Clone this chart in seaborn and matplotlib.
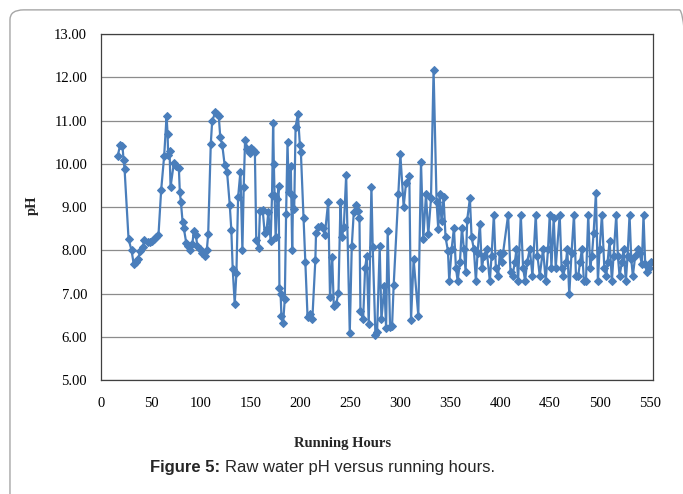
import matplotlib
matplotlib.use("Agg")
import matplotlib.pyplot as plt
import seaborn as sns
import pandas as pd
from matplotlib.patches import FancyBboxPatch

# running hours and raw water pH
hours = [
    16.8, 19.2, 21.5, 22.6, 23.6, 27.6, 30.6, 32.7, 35.0, 37.0,
    39.4, 42.0, 43.4, 46.8, 49.5, 51.5, 53.5, 55.5, 57.6, 60.3,
    63.3, 65.7, 66.7, 67.3, 68.7, 69.7, 73.0, 75.0, 78.0, 79.0,
    80.0, 81.8, 83.0, 85.5, 87.5, 89.6, 91.5, 93.0, 95.0, 96.6,
    99.3, 101.7, 104.0, 106.0, 107.4, 110.0, 111.4, 114.5, 116.0, 118.0,
    119.5, 121.5, 123.9, 126.3, 129.0, 130.6, 132.0, 134.0, 135.7, 137.4,
    139.7, 141.7, 143.0, 144.4, 146.8, 149.2, 150.5, 152.5, 154.2, 155.6,
    158.0, 159.3, 162.0, 164.0, 166.0, 167.7, 170.0, 171.4, 172.5, 173.2,
    174.0, 175.0, 176.8, 178.0, 178.8, 180.0, 180.8, 182.5, 184.2, 185.5,
    186.9, 188.2, 190.2, 191.6, 192.5, 193.6, 195.0, 197.3, 199.3, 200.3,
    203.0, 204.7, 207.0, 209.0, 211.8, 214.8, 215.5, 217.8, 220.5, 222.5,
    224.3, 227.7, 229.5, 231.7, 233.3, 235.7, 238.0, 240.0, 241.3, 243.3,
    245.7, 249.3, 251.3, 253.3, 255.7, 257.3, 259.0, 260.0, 262.7, 264.7,
    266.3, 268.3, 271.0, 272.3, 275.0, 276.7, 279.3, 281.0, 284.0, 285.7,
    287.3, 289.7, 291.7, 293.3, 298.0, 300.0, 303.3, 305.7, 309.0, 310.7,
    313.3, 318.0, 320.7, 323.0, 325.7, 328.0, 330.7, 333.3, 336.3, 338.0,
    339.3, 341.3, 343.3, 345.3, 347.7, 349.0, 351.4, 353.7, 355.7, 357.4,
    359.7, 361.7, 363.7, 365.4, 367.0, 369.7, 371.4, 373.7, 375.7, 377.4,
    379.7, 381.7, 383.7, 386.4, 389.7, 391.4, 393.7, 395.7, 398.0, 399.7,
    401.4, 403.0, 408.0, 410.4, 412.4, 414.7, 416.4, 418.0, 420.7, 423.0,
    425.0, 427.0, 429.7, 432.4, 435.7, 437.4, 439.7, 443.0, 445.7, 448.0,
    449.7, 451.4, 453.7, 455.7, 459.7, 461.6, 463.3, 466.0, 467.3, 469.3,
    471.6, 474.0, 476.0, 478.3, 480.0, 482.0, 484.0, 486.0, 488.3, 490.3,
    492.0, 493.7, 496.0, 498.0, 499.7, 502.0, 504.4, 506.4, 507.7, 509.7,
    512.0, 513.7, 516.4, 518.0, 519.7, 522.0, 523.7, 526.0, 527.7, 529.7,
    531.4, 533.0, 535.4, 537.7, 539.7, 542.0, 543.7, 545.4, 547.0, 548.7,
    551.0,
]
ph = [
    10.19, 10.44, 10.41, 10.10, 9.88, 8.26, 8.00, 7.69, 7.74, 7.79,
    7.99, 8.07, 8.24, 8.20, 8.20, 8.22, 8.27, 8.32, 8.36, 9.40,
    10.19, 11.11, 10.70, 10.21, 10.29, 9.47, 10.02, 9.95, 9.91, 9.34,
    9.13, 8.65, 8.51, 8.16, 8.10, 8.00, 8.14, 8.45, 8.35, 8.10,
    8.03, 7.95, 7.87, 8.00, 8.37, 10.46, 10.99, 11.20, 11.16, 11.11,
    10.62, 10.44, 9.98, 9.82, 9.06, 8.47, 7.56, 6.76, 7.48, 9.23,
    9.82, 8.01, 9.46, 10.56, 10.35, 10.26, 10.36, 10.33, 10.27, 8.24,
    8.05, 8.92, 8.94, 8.41, 8.49, 8.88, 8.22, 9.28, 10.95, 10.00,
    9.26, 8.31, 9.19, 9.50, 7.14, 6.98, 6.49, 6.32, 6.88, 8.84,
    10.50, 9.34, 9.96, 8.01, 9.26, 8.95, 10.85, 11.16, 10.44, 10.27,
    8.75, 7.74, 6.46, 6.52, 6.42, 7.77, 8.41, 8.55, 8.57, 8.52,
    8.36, 9.13, 6.93, 7.85, 6.71, 6.75, 7.02, 9.13, 8.30, 8.53,
    9.74, 6.09, 8.09, 8.88, 9.06, 8.92, 8.76, 6.59, 6.40, 7.60,
    7.86, 6.30, 9.47, 8.07, 6.05, 6.11, 8.09, 6.40, 7.17, 6.21,
    8.45, 6.23, 6.25, 7.19, 9.30, 10.22, 9.01, 9.56, 9.71, 6.39,
    7.79, 6.49, 10.04, 8.27, 9.30, 8.37, 9.20, 12.18, 9.13, 8.49,
    9.30, 8.68, 9.23, 8.30, 7.99, 7.29, 8.03, 8.52, 7.60, 7.29,
    7.72, 8.52, 8.03, 7.51, 8.71, 9.20, 8.30, 8.03, 7.29, 7.95,
    8.61, 7.60, 7.87, 8.03, 7.29, 7.87, 8.82, 7.60, 7.41, 7.95,
    7.72, 7.95, 8.82, 7.49, 7.41, 7.72, 8.03, 7.29, 8.82, 7.60,
    7.29, 7.72, 8.03, 7.41, 8.82, 7.87, 7.41, 8.03, 7.29, 8.03,
    8.82, 7.60, 8.76, 7.60, 8.82, 7.60, 7.41, 7.72, 8.03, 6.98,
    7.95, 8.82, 7.41, 7.41, 7.72, 8.03, 7.29, 7.29, 8.82, 7.60,
    7.87, 8.41, 9.32, 7.29, 8.03, 8.82, 7.60, 7.41, 7.72, 8.22,
    7.29, 7.87, 8.82, 7.87, 7.41, 7.72, 8.03, 7.29, 7.87, 8.82,
    7.80, 7.41, 7.87, 8.03, 7.95, 7.68, 8.82, 7.68, 7.49, 7.60,
    7.72,
]
x_ticks = [0, 50, 100, 150, 200, 250, 300, 350, 400, 450, 500, 550]
y_ticks = [5, 6, 7, 8, 9, 10, 11, 12, 13]

df = pd.DataFrame({"hours": hours, "ph": ph})

sns.set_style("white")
plt.rcParams["font.family"] = ["Liberation Serif", "DejaVu Serif"]

fig = plt.figure(figsize=(6.83, 4.94), dpi=100)
ax = fig.add_axes([0.1479, 0.2308, 0.8086, 0.6998])

sns.lineplot(data=df, x="hours", y="ph", ax=ax, sort=False, estimator=None,
             color="#4A7EBB", linewidth=1.6, marker="D", markersize=4.2,
             markeredgecolor="#4A7EBB", markerfacecolor="#4A7EBB")

ax.set_xlim(0, 553.5)
ax.set_ylim(5, 13)
ax.set_xticks(x_ticks)
ax.set_yticks(y_ticks)
ax.set_yticklabels([f"{v:.2f}" for v in y_ticks])
ax.yaxis.grid(True, color="#8c8c8c", linewidth=0.9)
ax.xaxis.grid(False)
ax.set_axisbelow(True)
for s in ax.spines.values():
    s.set_color("#404040")
    s.set_linewidth(0.9)
ax.tick_params(axis="both", direction="out", length=4, width=0.8,
               color="#808080", labelsize=10.5, labelcolor="black", pad=6)
ax.tick_params(axis="x", pad=8)
ax.set_xlabel("")
ax.set_ylabel("")

fig.text(0.048, 0.585, "pH", rotation=90, ha="center", va="center",
         fontsize=10.5, fontweight="bold")
fig.text(0.502, 0.103, "Running Hours", ha="center", va="center",
         fontsize=10.5, fontweight="bold")

# caption: bold lead-in followed by the plain text
sans = ["Liberation Sans", "DejaVu Sans"]
lead = fig.text(0.22, 0.053, "Figure 5:", ha="left", va="center",
                fontsize=12, fontweight="bold", family=sans)
fig.canvas.draw()
bb = lead.get_window_extent().transformed(fig.transFigure.inverted())
fig.text(bb.x1 + 0.007, 0.053, "Raw water pH versus running hours.",
         ha="left", va="center", fontsize=12, family=sans)

frame = FancyBboxPatch((0.0146, -0.05), 1.0, 1.03, transform=fig.transFigure,
                       boxstyle="round,pad=0,rounding_size=0.02",
                       fill=False, edgecolor="#a6a6a6", linewidth=1.0)
fig.patches.append(frame)

fig.savefig("out.png", dpi=100)
